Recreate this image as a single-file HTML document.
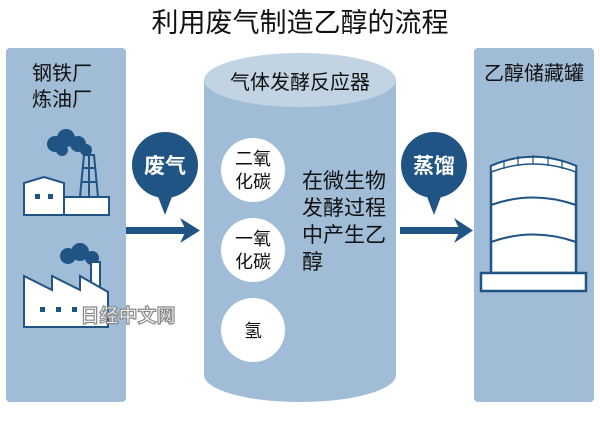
<!DOCTYPE html>
<html><head><meta charset="utf-8"><style>
body{margin:0;width:600px;height:416px;background:#fff;overflow:hidden}
text{font-family:"Liberation Sans","Noto Sans CJK SC",sans-serif}
</style></head><body>
<svg width="600" height="416" viewBox="0 0 600 416">
<text x="300" y="32" font-size="27" text-anchor="middle" fill="#111">利用废气制造乙醇的流程</text>
<rect x="6" y="48" width="120" height="354" rx="4" fill="#a0bcd6"/>
<rect x="474" y="48" width="120" height="354" rx="4" fill="#a0bcd6"/>
<text x="32" y="80" font-size="20" fill="#111">钢铁厂</text>
<text x="32" y="106" font-size="20" fill="#111">炼油厂</text>
<text x="484" y="80" font-size="20" fill="#111">乙醇储藏罐</text>
<!-- factory 1 -->
<g fill="#1f5484">
<circle cx="55" cy="144" r="8"/><circle cx="66" cy="138" r="9"/><circle cx="78" cy="144" r="8"/><circle cx="86" cy="150" r="6"/><circle cx="62" cy="150" r="6"/>
</g>
<path d="M24 183 L24 215 L64 215 L64 183 L44 177 Z" fill="#fff" stroke="#1f5484" stroke-width="2"/>
<rect x="64" y="197" width="45" height="18" fill="#fff" stroke="#1f5484" stroke-width="2"/>
<path d="M80 197 L84 155 L94 155 L98 197 M82 168 H96 M81 182 H97 M89 155 V197" fill="none" stroke="#1f5484" stroke-width="2"/>
<rect x="35" y="194" width="5" height="5" fill="#1f5484"/><rect x="48" y="194" width="5" height="5" fill="#1f5484"/>
<!-- factory 2 -->
<g fill="#1f5484"><circle cx="68" cy="256" r="8"/><circle cx="80" cy="252" r="9"/><circle cx="92" cy="258" r="7"/></g>
<rect x="91" y="262" width="9" height="28" fill="#fff" stroke="#1f5484" stroke-width="2"/>
<path d="M24 276 L52 290 L52 276 L80 290 L80 276 L108 292 L108 327 L24 327 Z" fill="#fff" stroke="#1f5484" stroke-width="2"/>
<g fill="#1f5484"><rect x="40" y="307" width="5" height="5"/><rect x="56" y="307" width="5" height="5"/><rect x="72" y="307" width="5" height="5"/></g>
<text x="128" y="322" font-size="19" font-weight="bold" text-anchor="middle" fill="#fff" stroke="#888" stroke-width="1.2">日经中文网</text>
<!-- cylinder -->
<path d="M204 80 L204 375 A96 27 0 0 0 396 375 L396 80 Z" fill="#a0bcd6"/>
<ellipse cx="300" cy="80" rx="96" ry="27" fill="#c2d4e4"/>
<text x="300" y="89" font-size="20" text-anchor="middle" fill="#111">气体发酵反应器</text>
<g fill="#fff"><circle cx="253" cy="170" r="32"/><circle cx="253" cy="250" r="32"/><circle cx="253" cy="330" r="32"/></g>
<g font-size="18" fill="#111" text-anchor="middle">
<text x="253" y="165">二氧</text><text x="253" y="188">化碳</text>
<text x="253" y="245">一氧</text><text x="253" y="268">化碳</text>
<text x="253" y="337">氢</text></g>
<g font-size="21" fill="#111">
<text x="302" y="188">在微生物</text><text x="302" y="215">发酵过程</text><text x="302" y="242">中产生乙</text><text x="302" y="269">醇</text></g>
<!-- arrows -->
<g fill="#1f5484">
<rect x="126" y="227" width="62" height="7"/><path d="M180 218 L200 230.5 L180 243 L186 230.5 Z"/>
<rect x="400" y="227" width="62" height="7"/><path d="M454 218 L473 230.5 L454 243 L460 230.5 Z"/>
<circle cx="165" cy="165" r="33"/><path d="M157 194 L165 215 L173 194 Z"/>
<circle cx="434" cy="165" r="33"/><path d="M426 194 L434 215 L442 194 Z"/>
</g>
<text x="165" y="173" font-size="21" font-weight="bold" text-anchor="middle" fill="#fff">废气</text>
<text x="434" y="173" font-size="21" font-weight="bold" text-anchor="middle" fill="#fff">蒸馏</text>
<!-- tank -->
<path d="M491 166 Q533 148 576 166 L576 273 L491 273 Z" fill="#fff" stroke="#1f5484" stroke-width="2.5"/>
<path d="M491 166 Q533 148 576 166 L576 172 Q533 156 491 172 Z" fill="#fff" stroke="#1f5484" stroke-width="1.5"/>
<path d="M504 160 V169 M518 156 V166 M533 155 V164 M548 156 V166 M562 160 V169" stroke="#1f5484" stroke-width="1.2"/>
<path d="M491 205 Q533 190 576 205 M491 242 Q533 227 576 242" fill="none" stroke="#1f5484" stroke-width="2"/>
<rect x="481" y="273" width="105" height="18" fill="#fff" stroke="#1f5484" stroke-width="2.5"/>
</svg>
</body></html>
